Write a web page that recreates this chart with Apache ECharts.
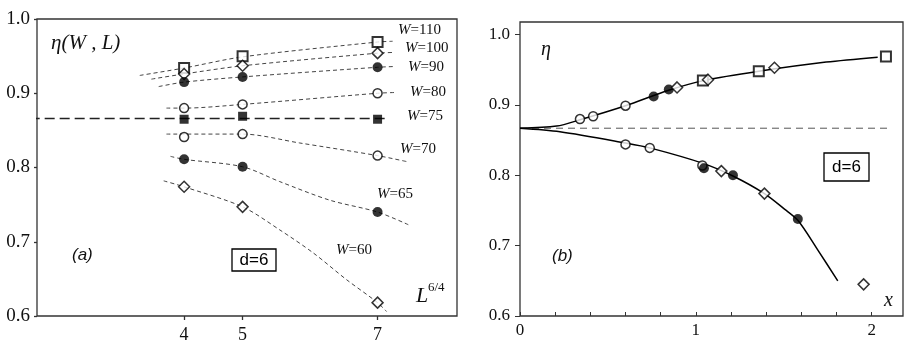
<!DOCTYPE html>
<html>
<head>
<meta charset="utf-8">
<script src="https://cdn.jsdelivr.net/npm/echarts@6/dist/echarts.min.js"></script>
<style>
html, body { margin: 0; padding: 0; background: #fff; }
#chart { width: 913px; height: 351px; }
</style>
</head>
<body>
<div id="chart"></div>
<script>
// panel (a): eta(W, L) against L^(6/4), points at L = 4, 5, 7
const L_TICKS = [4, 5, 7]
const W110 = [0.934, 0.950, 0.969]
const W100 = [0.926, 0.937, 0.954]
const W90 = [0.915, 0.922, 0.935]
const W80 = [0.880, 0.885, 0.900]
const W75 = [0.865, 0.869, 0.865]
const W70 = [0.841, 0.845, 0.816]
const W65 = [0.811, 0.801, 0.740]
const W60 = [0.774, 0.747, 0.618]

// dashed fit curves, [L^(6/4), eta]
const FIT110 = [[5.59, 0.924], [8, 0.934], [11.18, 0.949], [18.52, 0.969], [19.34, 0.970]]
const FIT100 = [[6.22, 0.919], [8, 0.926], [11.18, 0.937], [18.52, 0.954], [19.46, 0.955]]
const FIT90 = [[6.62, 0.909], [8, 0.915], [11.18, 0.922], [18.52, 0.935], [19.46, 0.936]]
const FIT80 = [[7.04, 0.880], [8, 0.880], [11.18, 0.885], [18.52, 0.900], [19.46, 0.901]]
const FIT75 = [[-2.03, 0.866], [19.08, 0.866]]
const FIT70 = [[7.04, 0.845], [11.18, 0.845], [14.29, 0.833], [18.52, 0.816], [20.1, 0.808]]
const FIT65 = [[7.26, 0.815], [8, 0.811], [11.18, 0.801], [13.2, 0.781], [15.92, 0.756], [18.52, 0.740], [20.19, 0.723]]
const FIT60 = [[6.89, 0.782], [8, 0.774], [11.18, 0.747], [13.2, 0.716], [15.02, 0.685], [16.83, 0.649], [18.52, 0.618], [19.01, 0.606]]

// panel (b): eta against x
const B_OPEN_CIRCLES = [[0.341, 0.880], [0.416, 0.884], [0.600, 0.899], [0.600, 0.844], [0.738, 0.839], [1.037, 0.814]]
const B_FILLED_CIRCLES = [[0.760, 0.912], [0.846, 0.922], [1.046, 0.810], [1.211, 0.800], [1.580, 0.738]]
const B_DIAMONDS = [[0.893, 0.925], [1.069, 0.936], [1.447, 0.953], [1.145, 0.806], [1.390, 0.774], [1.954, 0.645]]
const B_SQUARES = [[1.040, 0.935], [1.358, 0.948], [2.081, 0.969]]
const B_UPPER = [[0, 0.867], [0.208, 0.870], [0.341, 0.879], [0.6, 0.899], [0.846, 0.921], [1.05, 0.935], [1.358, 0.948], [1.741, 0.961], [2.034, 0.968]]
const B_LOWER = [[0, 0.867], [0.227, 0.862], [0.6, 0.846], [0.738, 0.839], [1.041, 0.817], [1.211, 0.799], [1.39, 0.774], [1.504, 0.752], [1.58, 0.736], [1.693, 0.694], [1.807, 0.650]]
const B_ASYMPTOTE = [[0, 0.867], [2.11, 0.867]]

const SERIF = '"Liberation Serif", "DejaVu Serif", serif'
const SANS = '"Liberation Sans", Arial, sans-serif'

const chart = echarts.init(document.getElementById('chart'))

function lx(L){
    return Math.pow(L, 1.5)
}

function markerStyle(symbol, filled){
    return {
        color: filled ? '#000' : '#fff',
        borderColor: '#000',
        borderWidth: filled ? 0 : (symbol == 'rect' ? 2 : 1.5)
    }
}

function pointsA(vals, symbol, filled, size){
    return {
        type: 'scatter',
        xAxisIndex: 0,
        yAxisIndex: 0,
        symbol: symbol,
        symbolSize: size,
        z: 5,
        itemStyle: markerStyle(symbol, filled),
        data: vals.map((v, i) => [lx(L_TICKS[i]), v])
    }
}

function pointsB(data, symbol, filled, size){
    return {
        type: 'scatter',
        xAxisIndex: 1,
        yAxisIndex: 1,
        symbol: symbol,
        symbolSize: size,
        z: 5,
        itemStyle: markerStyle(symbol, filled),
        data: data
    }
}

function fitA(data){
    return {
        type: 'line',
        xAxisIndex: 0,
        yAxisIndex: 0,
        symbol: 'none',
        smooth: 0.3,
        z: 2,
        lineStyle: { color: '#444', width: 1, type: [4, 3] },
        data: data
    }
}

function wLabel(txt, x, y){
    return {
        type: 'text',
        left: x,
        top: y - 9,
        z: 10,
        style: {
            text: '{i|W}=' + txt,
            font: '15px ' + SERIF,
            fill: '#111',
            rich: {
                i: { font: 'italic 15px ' + SERIF, fill: '#111' }
            }
        }
    }
}

function boxLabel(x, y, w, h){
    return [{
        type: 'rect',
        z: 10,
        shape: { x: x, y: y, width: w, height: h },
        style: { fill: '#fff', stroke: '#000', lineWidth: 1.3 }
    }, {
        type: 'text',
        z: 11,
        x: x + w / 2,
        y: y + h / 2,
        style: {
            text: 'd=6',
            font: '17px ' + SANS,
            fill: '#000',
            align: 'center',
            verticalAlign: 'middle'
        }
    }]
}

const axisLabelStyle = (size) => ({
    fontFamily: SERIF,
    fontSize: size,
    color: '#111'
})

const options = {
    animation: false,
    backgroundColor: '#fff',
    grid: [{
        left: 37, top: 19, width: 420, height: 297,
        show: true, borderColor: '#333', borderWidth: 1.3, backgroundColor: 'transparent'
    }, {
        left: 520, top: 22, width: 383, height: 294,
        show: true, borderColor: '#333', borderWidth: 1.3, backgroundColor: 'transparent'
    }],
    xAxis: [{
        type: 'value',
        gridIndex: 0,
        min: 0,
        max: 22.84,
        axisLine: { show: false },
        splitLine: { show: false },
        axisTick: {
            show: true,
            length: 4,
            customValues: L_TICKS.map(lx),
            lineStyle: { color: '#333', width: 1.3 }
        },
        axisLabel: {
            ...axisLabelStyle(18),
            margin: 10,
            customValues: L_TICKS.map(lx),
            formatter: (v) => String(Math.round(Math.pow(v, 2 / 3)))
        }
    }, {
        type: 'value',
        gridIndex: 1,
        min: 0,
        max: 2.178,
        interval: 0.2,
        axisLine: { show: false },
        splitLine: { show: false },
        axisTick: {
            show: true,
            inside: true,
            length: 4,
            lineStyle: { color: '#333', width: 1 }
        },
        axisLabel: {
            ...axisLabelStyle(17),
            margin: 6,
            showMaxLabel: false,
            formatter: (v) => Math.abs(v - Math.round(v)) < 1e-6 ? String(Math.round(v)) : ''
        }
    }],
    yAxis: [{
        type: 'value',
        gridIndex: 0,
        min: 0.6,
        max: 1.0,
        interval: 0.1,
        axisLine: { show: false },
        splitLine: { show: false },
        axisTick: { show: true, length: 3, lineStyle: { color: '#333', width: 1.3 } },
        axisLabel: {
            ...axisLabelStyle(19),
            margin: 7,
            formatter: (v) => v.toFixed(1)
        }
    }, {
        type: 'value',
        gridIndex: 1,
        min: 0.6,
        max: 1.018,
        interval: 0.1,
        axisLine: { show: false },
        splitLine: { show: false },
        axisTick: { show: true, length: 5, lineStyle: { color: '#333', width: 1 } },
        axisLabel: {
            ...axisLabelStyle(17),
            margin: 10,
            showMaxLabel: false,
            formatter: (v) => v.toFixed(1)
        }
    }],
    series: [
        fitA(FIT110), fitA(FIT100), fitA(FIT90), fitA(FIT80),
        fitA(FIT70), fitA(FIT65), fitA(FIT60),
        {
            type: 'line',
            xAxisIndex: 0,
            yAxisIndex: 0,
            symbol: 'none',
            clip: false,
            z: 2,
            lineStyle: { color: '#222', width: 1.5, type: [10, 5] },
            data: FIT75
        },
        pointsA(W110, 'rect', false, 10),
        pointsA(W100, 'diamond', false, 11),
        pointsA(W90, 'circle', true, 10),
        pointsA(W80, 'circle', false, 9),
        pointsA(W75, 'rect', true, 9),
        pointsA(W70, 'circle', false, 9),
        pointsA(W65, 'circle', true, 10),
        pointsA(W60, 'diamond', false, 11),
        {
            type: 'line',
            xAxisIndex: 1,
            yAxisIndex: 1,
            symbol: 'none',
            z: 2,
            lineStyle: { color: '#555', width: 1, type: [7, 5] },
            data: B_ASYMPTOTE
        },
        {
            type: 'line',
            xAxisIndex: 1,
            yAxisIndex: 1,
            symbol: 'none',
            smooth: 0.3,
            z: 3,
            lineStyle: { color: '#000', width: 1.5 },
            data: B_UPPER
        },
        {
            type: 'line',
            xAxisIndex: 1,
            yAxisIndex: 1,
            symbol: 'none',
            smooth: 0.3,
            z: 3,
            lineStyle: { color: '#000', width: 1.5 },
            data: B_LOWER
        },
        pointsB(B_OPEN_CIRCLES, 'circle', false, 9),
        pointsB(B_SQUARES, 'rect', false, 10),
        pointsB(B_FILLED_CIRCLES, 'circle', true, 10),
        pointsB(B_DIAMONDS, 'diamond', false, 11)
    ],
    graphic: [
        {
            type: 'text', left: 51, top: 33, z: 10,
            style: { text: 'η(W , L)', font: 'italic 21px ' + SERIF, fill: '#111' }
        },
        wLabel('110', 398, 32),
        wLabel('100', 405, 50),
        wLabel('90', 408, 69),
        wLabel('80', 410, 94),
        wLabel('75', 407, 118),
        wLabel('70', 400, 151),
        wLabel('65', 377, 196),
        wLabel('60', 336, 252),
        {
            type: 'text', left: 72, top: 247, z: 10,
            style: { text: '(a)', font: 'italic 17px ' + SANS, fill: '#111' }
        },
        ...boxLabel(232, 249, 44, 22),
        {
            type: 'text', left: 416, top: 285, z: 10,
            style: { text: 'L', font: 'italic 22px ' + SERIF, fill: '#111' }
        },
        {
            type: 'text', left: 428, top: 281, z: 10,
            style: { text: '6/4', font: '13px ' + SERIF, fill: '#111' }
        },
        {
            type: 'text', left: 541, top: 40, z: 10,
            style: { text: 'η', font: 'italic 20px ' + SERIF, fill: '#111' }
        },
        {
            type: 'text', left: 552, top: 248, z: 10,
            style: { text: '(b)', font: 'italic 17px ' + SANS, fill: '#111' }
        },
        ...boxLabel(824, 153, 45, 28),
        {
            type: 'text', left: 884, top: 291, z: 10,
            style: { text: 'x', font: 'italic 20px ' + SERIF, fill: '#111' }
        }
    ]
}

chart.setOption(options)
</script>
</body>
</html>
